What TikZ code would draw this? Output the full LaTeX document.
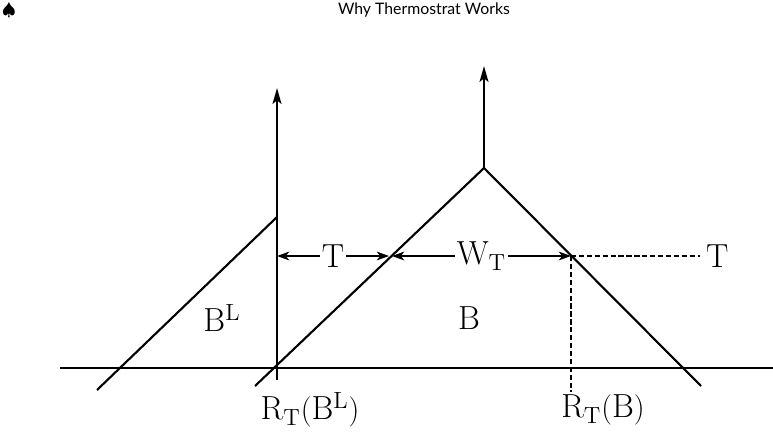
\documentclass[tikz,border=0pt]{standalone}
\usepackage{fontspec}
\newfontfamily\headfont{Lato}
\usetikzlibrary{arrows.meta}
\tikzset{
  lbl/.style={font=\fontsize{19}{22}\selectfont, inner sep=1pt},
  axisline/.style={line width=1.5pt, -{Stealth[length=9pt,width=5pt,inset=2pt]}},
  legline/.style={line width=1.2pt},
  dimline/.style={line width=0.9pt, {Stealth[length=7pt,width=5pt,inset=2pt]}-{Stealth[length=7pt,width=5pt,inset=2pt]}},
  guide/.style={line width=0.9pt, dash pattern=on 3pt off 1.5pt}
}
\begin{document}
\begin{tikzpicture}[x=0.02cm, y=-0.02cm]
  \useasboundingbox (0,0) rectangle (773,433);

  % Kopf
  \node[inner sep=0pt] (spade) at (9,11) {$\spadesuit$};
  \node[font=\headfont\fontsize{9}{11}\selectfont] (title) at (424,10) {Why Thermostrat Works};

  % Punkte
  \coordinate (base0) at (60,368);
  \coordinate (base1) at (773,368);
  \coordinate (axL0) at (277,380);
  \coordinate (axL1) at (277,88);
  \coordinate (blow) at (97,390);
  \coordinate (btop) at (277,217);
  \coordinate (m0) at (255,386);
  \coordinate (apex) at (484,168);
  \coordinate (m1) at (701,386);
  \coordinate (axM1) at (484,66);
  \coordinate (dA) at (277,256);
  \coordinate (dB) at (389,256);
  \coordinate (dC) at (392,256);
  \coordinate (dD) at (571,256);
  \coordinate (dE) at (700,256);
  \coordinate (dF) at (571,392);

  % Linien
  \draw[line width=0.8pt] (base0) -- (base1);
  \draw[axisline] (axL0) -- (axL1);
  \draw[legline] (blow) -- (btop);
  \draw[legline] (m0) -- (apex) -- (m1);
  \draw[axisline] (apex) -- (axM1);

  % Bemassung
  \draw[dimline] (dA) -- node[lbl, fill=white] (t1) {$\mathrm{T}$} (dB);
  \draw[dimline] (dC) -- node[lbl, fill=white] (wt) {$\mathrm{W}_{\mathrm{T}}$} (dD);
  \draw[guide] (dD) -- (dE);
  \node[lbl, anchor=west] (t2) at (704,256) {$\mathrm{T}$};
  \draw[guide] (dD) -- (dF);

  % Beschriftungen
  \node[lbl] (bl) at (222,318) {$\mathrm{B}^{\mathrm{L}}$};
  \node[lbl] (b) at (469,318) {$\mathrm{B}$};
  \node[lbl] (rbl) at (310,410) {$\mathrm{R}_{\mathrm{T}}(\mathrm{B}^{\mathrm{L}})$};
  \node[lbl] (rb) at (603,410) {$\mathrm{R}_{\mathrm{T}}(\mathrm{B})$};
\end{tikzpicture}
\end{document}
